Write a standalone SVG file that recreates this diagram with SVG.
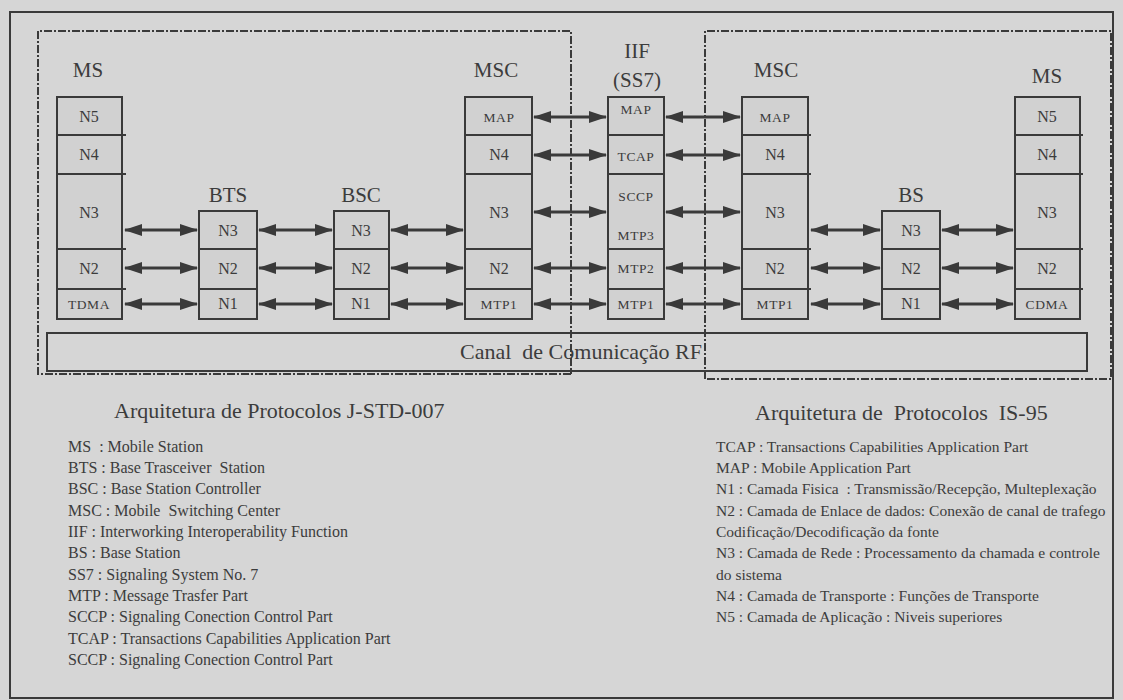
<svg xmlns="http://www.w3.org/2000/svg" width="1123" height="700" viewBox="0 0 1123 700">
<defs>
<style>
text{font-family:"Liberation Serif","DejaVu Serif",serif;fill:#3c3c3c}
.hd{font-size:21px;text-anchor:middle}
.lb{font-size:16px;text-anchor:middle}
.sm{font-size:13.5px;text-anchor:middle;letter-spacing:0.6px}
.box{fill:#d1d1d1;stroke:#3a3a3a;stroke-width:2}
.div{stroke:#3a3a3a;stroke-width:2}
.dash{fill:none;stroke:#3a3a3a;stroke-width:2;stroke-dasharray:8 2 2 2}
.arr{stroke:#3a3a3a;stroke-width:3;marker-start:url(#ah);marker-end:url(#ah)}
.leg{font-size:16px}
.legr{font-size:15.5px}
.cap{font-size:22px}
</style>
<marker id="ah" viewBox="0 0 18 12" refX="17" refY="6" markerWidth="18" markerHeight="12" markerUnits="userSpaceOnUse" orient="auto-start-reverse">
<path d="M0,0 L18,6 L0,12 z" fill="#3a3a3a"/>
</marker>
</defs>
<rect width="1123" height="700" fill="#d6d6d6"/>
<rect x="10" y="12" width="1103" height="686" fill="none" stroke="#3a3a3a" stroke-width="2"/>
<g id="frames">
<polyline class="dash" points="571,374 38,374 38,31 571,31 571,374"/>
<polyline class="dash" points="705,379 705,31 1111,31 1111,379 705,379"/>
</g>
<g id="canal">
<rect x="47" y="333" width="1040" height="38" fill="none" stroke="#3a3a3a" stroke-width="2"/>
<text x="581" y="359" style="font-size:22px;text-anchor:middle" xml:space="preserve">Canal  de Comunicação RF</text>
</g>
<g id="ms-left">
<text class="hd" x="88" y="77">MS</text>
<rect class="box" x="57" y="97" width="65" height="222"/>
<line class="div" x1="57" y1="135" x2="126" y2="135"/>
<line class="div" x1="57" y1="174" x2="126" y2="174"/>
<line class="div" x1="57" y1="249" x2="126" y2="249"/>
<line class="div" x1="57" y1="289" x2="126" y2="289"/>
<text class="lb" x="89" y="122">N5</text>
<text class="lb" x="89" y="160">N4</text>
<text class="lb" x="89" y="218">N3</text>
<text class="lb" x="89" y="274">N2</text>
<text class="sm" x="89" y="309">TDMA</text>
</g>
<g id="bts">
<text class="hd" x="228" y="202">BTS</text>
<rect class="box" x="199" y="211" width="58" height="108"/>
<line class="div" x1="199" y1="249" x2="257" y2="249"/>
<line class="div" x1="199" y1="289" x2="257" y2="289"/>
<text class="lb" x="228" y="236">N3</text>
<text class="lb" x="228" y="274">N2</text>
<text class="lb" x="228" y="309">N1</text>
</g>
<g id="bsc">
<text class="hd" x="361" y="202">BSC</text>
<rect class="box" x="334" y="211" width="55" height="108"/>
<line class="div" x1="334" y1="249" x2="389" y2="249"/>
<line class="div" x1="334" y1="289" x2="389" y2="289"/>
<text class="lb" x="361" y="236">N3</text>
<text class="lb" x="361" y="274">N2</text>
<text class="lb" x="361" y="309">N1</text>
</g>
<g id="msc-left">
<text class="hd" x="496" y="77">MSC</text>
<rect class="box" x="465" y="97" width="67" height="222"/>
<line class="div" x1="465" y1="135" x2="532" y2="135"/>
<line class="div" x1="465" y1="174" x2="532" y2="174"/>
<line class="div" x1="465" y1="249" x2="532" y2="249"/>
<line class="div" x1="465" y1="289" x2="532" y2="289"/>
<text class="sm" x="499" y="122">MAP</text>
<text class="lb" x="499" y="160">N4</text>
<text class="lb" x="499" y="218">N3</text>
<text class="lb" x="499" y="274">N2</text>
<text class="sm" x="499" y="309">MTP1</text>
</g>
<g id="iif">
<text class="hd" x="637" y="58">IIF</text>
<text class="hd" x="637" y="87">(SS7)</text>
<rect class="box" x="608" y="97" width="56" height="222"/>
<line class="div" x1="608" y1="135" x2="664" y2="135"/>
<line class="div" x1="608" y1="174" x2="664" y2="174"/>
<line class="div" x1="608" y1="249" x2="664" y2="249"/>
<line class="div" x1="608" y1="289" x2="664" y2="289"/>
<text class="sm" x="636" y="114">MAP</text>
<text class="sm" x="636" y="161">TCAP</text>
<text class="sm" x="636" y="201">SCCP</text>
<text class="sm" x="636" y="240">MTP3</text>
<text class="sm" x="636" y="273">MTP2</text>
<text class="sm" x="636" y="309">MTP1</text>
</g>
<g id="msc-right">
<text class="hd" x="776" y="77">MSC</text>
<rect class="box" x="742" y="97" width="66" height="222"/>
<line class="div" x1="742" y1="135" x2="811" y2="135"/>
<line class="div" x1="742" y1="174" x2="811" y2="174"/>
<line class="div" x1="742" y1="249" x2="811" y2="249"/>
<line class="div" x1="742" y1="289" x2="811" y2="289"/>
<text class="sm" x="775" y="122">MAP</text>
<text class="lb" x="775" y="160">N4</text>
<text class="lb" x="775" y="218">N3</text>
<text class="lb" x="775" y="274">N2</text>
<text class="sm" x="775" y="309">MTP1</text>
</g>
<g id="bs">
<text class="hd" x="911" y="202">BS</text>
<rect class="box" x="882" y="211" width="58" height="108"/>
<line class="div" x1="882" y1="249" x2="940" y2="249"/>
<line class="div" x1="882" y1="289" x2="940" y2="289"/>
<text class="lb" x="911" y="236">N3</text>
<text class="lb" x="911" y="274">N2</text>
<text class="lb" x="911" y="309">N1</text>
</g>
<g id="ms-right">
<text class="hd" x="1047" y="83">MS</text>
<rect class="box" x="1015" y="97" width="65" height="222"/>
<line class="div" x1="1015" y1="135" x2="1083" y2="135"/>
<line class="div" x1="1015" y1="174" x2="1083" y2="174"/>
<line class="div" x1="1015" y1="249" x2="1083" y2="249"/>
<line class="div" x1="1015" y1="289" x2="1083" y2="289"/>
<text class="lb" x="1047" y="122">N5</text>
<text class="lb" x="1047" y="160">N4</text>
<text class="lb" x="1047" y="218">N3</text>
<text class="lb" x="1047" y="274">N2</text>
<text class="sm" x="1047" y="309">CDMA</text>
</g>
<g id="connectors">
<line class="arr" x1="125" y1="230" x2="197" y2="230"/>
<line class="arr" x1="259" y1="230" x2="332" y2="230"/>
<line class="arr" x1="391" y1="230" x2="463" y2="230"/>
<line class="arr" x1="811" y1="230" x2="880" y2="230"/>
<line class="arr" x1="942" y1="230" x2="1013" y2="230"/>
<line class="arr" x1="125" y1="268" x2="197" y2="268"/>
<line class="arr" x1="259" y1="268" x2="332" y2="268"/>
<line class="arr" x1="391" y1="268" x2="463" y2="268"/>
<line class="arr" x1="534" y1="268" x2="606" y2="268"/>
<line class="arr" x1="666" y1="268" x2="740" y2="268"/>
<line class="arr" x1="811" y1="268" x2="880" y2="268"/>
<line class="arr" x1="942" y1="268" x2="1013" y2="268"/>
<line class="arr" x1="125" y1="304" x2="197" y2="304"/>
<line class="arr" x1="259" y1="304" x2="332" y2="304"/>
<line class="arr" x1="391" y1="304" x2="463" y2="304"/>
<line class="arr" x1="534" y1="304" x2="606" y2="304"/>
<line class="arr" x1="666" y1="304" x2="740" y2="304"/>
<line class="arr" x1="811" y1="304" x2="880" y2="304"/>
<line class="arr" x1="942" y1="304" x2="1013" y2="304"/>
<line class="arr" x1="534" y1="117" x2="606" y2="117"/>
<line class="arr" x1="666" y1="117" x2="740" y2="117"/>
<line class="arr" x1="534" y1="155" x2="606" y2="155"/>
<line class="arr" x1="666" y1="155" x2="740" y2="155"/>
<line class="arr" x1="534" y1="212" x2="606" y2="212"/>
<line class="arr" x1="666" y1="212" x2="740" y2="212"/>
</g>
<g id="captions">
<text class="cap" x="114" y="418">Arquitetura de Protocolos J-STD-007</text>
<text class="cap" x="755" y="420" xml:space="preserve">Arquitetura de  Protocolos  IS-95</text>
</g>
<g id="legend-left">
<text class="leg" x="68" y="452" xml:space="preserve">MS  : Mobile Station</text>
<text class="leg" x="68" y="473" xml:space="preserve">BTS : Base Trasceiver  Station</text>
<text class="leg" x="68" y="494">BSC : Base Station Controller</text>
<text class="leg" x="68" y="516" xml:space="preserve">MSC : Mobile  Switching Center</text>
<text class="leg" x="68" y="537">IIF : Interworking Interoperability Function</text>
<text class="leg" x="68" y="558">BS : Base Station</text>
<text class="leg" x="68" y="580">SS7 : Signaling System No. 7</text>
<text class="leg" x="68" y="601">MTP : Message Trasfer Part</text>
<text class="leg" x="68" y="622">SCCP : Signaling Conection Control Part</text>
<text class="leg" x="68" y="644">TCAP : Transactions Capabilities Application Part</text>
<text class="leg" x="68" y="665">SCCP : Signaling Conection Control Part</text>
</g>
<g id="legend-right">
<text class="legr" x="716" y="452">TCAP : Transactions Capabilities Application Part</text>
<text class="legr" x="716" y="473">MAP : Mobile Application Part</text>
<text class="legr" x="716" y="494" xml:space="preserve">N1 : Camada Fisica  : Transmissão/Recepção, Multeplexação</text>
<text class="legr" x="716" y="516">N2 : Camada de Enlace de dados: Conexão de canal de trafego</text>
<text class="legr" x="716" y="537">Codificação/Decodificação da fonte</text>
<text class="legr" x="716" y="558">N3 : Camada de Rede : Processamento da chamada e controle</text>
<text class="legr" x="716" y="580">do sistema</text>
<text class="legr" x="716" y="601">N4 : Camada de Transporte : Funções de Transporte</text>
<text class="legr" x="716" y="622">N5 : Camada de Aplicação : Niveis superiores</text>
</g>
</svg>
